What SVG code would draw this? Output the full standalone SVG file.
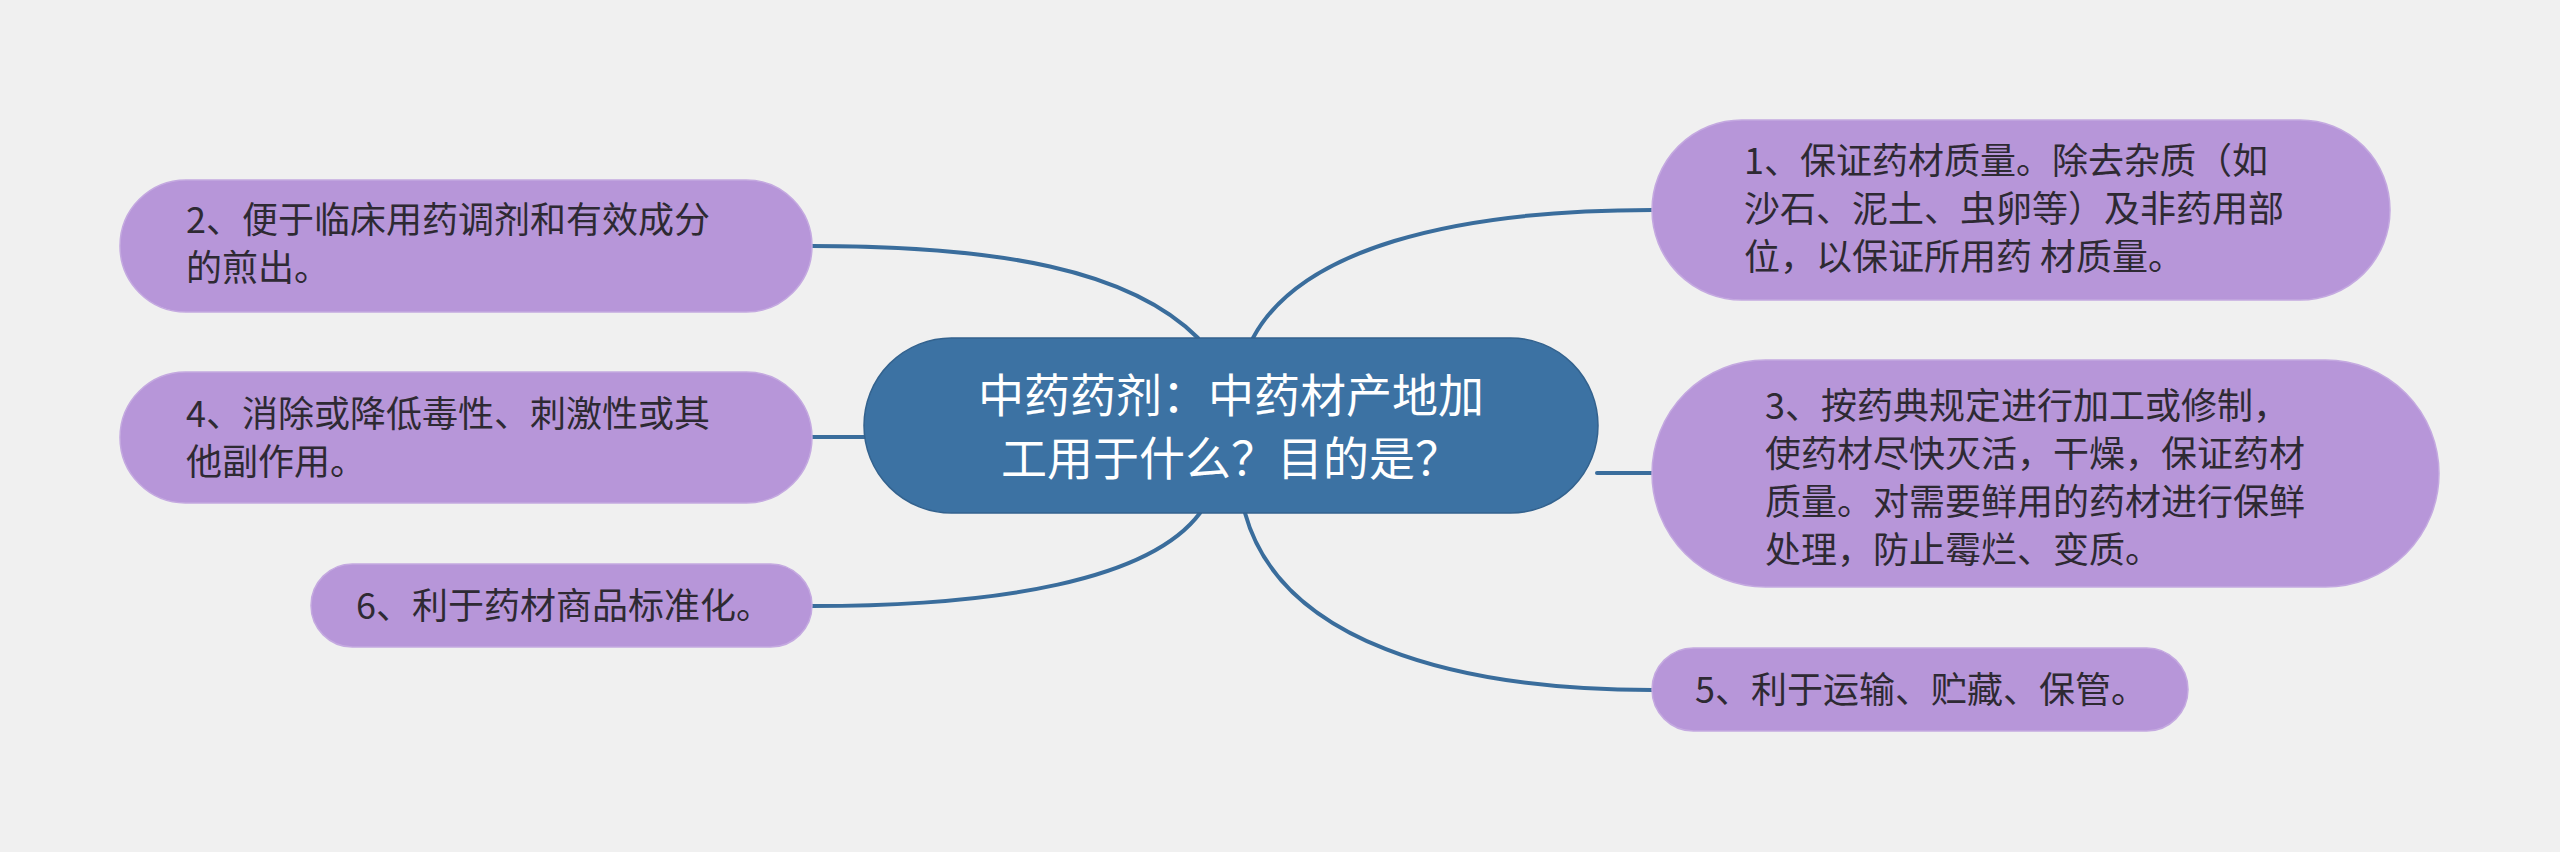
<svg xmlns="http://www.w3.org/2000/svg" width="2560" height="852" viewBox="0 0 2560 852">
<style>
.bg{fill:#f0f0f0}
.leaf{fill:#b796d9;stroke:#c4a9e0;stroke-width:1.5}
.root{fill:#3c72a3;stroke:#33628e;stroke-width:1.5}
.t{font-family:"Noto Sans CJK SC","Noto Sans",sans-serif;font-size:36px;fill:#2e2a33}
.rt{font-family:"Noto Sans CJK SC","Noto Sans",sans-serif;font-size:46px;fill:#ffffff;text-anchor:middle}
.c{fill:none;stroke:#3a6d9c;stroke-width:4;stroke-linecap:round}
</style>
<rect class="bg" x="0" y="0" width="2560" height="852"/>
<g id="connectors">
<path class="c" d="M 1198 338 C 1130 270, 1000 246, 812 246"/>
<path class="c" d="M 865 437 L 812 437"/>
<path class="c" d="M 1200 513 C 1150 580, 1000 606, 812 606"/>
<path class="c" d="M 1253 338 C 1300 250, 1450 210, 1652 210"/>
<path class="c" d="M 1597 473 L 1652 473"/>
<path class="c" d="M 1245 513 C 1280 640, 1450 690, 1652 690"/>
</g>
<g id="root">
<rect class="root" x="864" y="338" width="734" height="175" rx="87.5"/>
<text class="rt" x="1231" y="412">中药药剂：中药材产地加</text>
<text class="rt" x="1231" y="475">工用于什么？目的是？</text>
</g>
<g id="node2">
<rect class="leaf" x="120" y="180" width="692" height="132" rx="66"/>
<text class="t" x="186" y="233">2、便于临床用药调剂和有效成分</text>
<text class="t" x="186" y="281">的煎出。</text>
</g>
<g id="node4">
<rect class="leaf" x="120" y="372" width="692" height="131" rx="65.5"/>
<text class="t" x="186" y="427">4、消除或降低毒性、刺激性或其</text>
<text class="t" x="186" y="475">他副作用。</text>
</g>
<g id="node6">
<rect class="leaf" x="311" y="564" width="501" height="83" rx="41.5"/>
<text class="t" x="356" y="619">6、利于药材商品标准化。</text>
</g>
<g id="node1">
<rect class="leaf" x="1652" y="120" width="738" height="180" rx="90"/>
<text class="t" x="1744" y="174">1、保证药材质量。除去杂质（如</text>
<text class="t" x="1744" y="222">沙石、泥土、虫卵等）及非药用部</text>
<text class="t" x="1744" y="270">位，以保证所用药 材质量。</text>
</g>
<g id="node3">
<rect class="leaf" x="1652" y="360" width="787" height="227" rx="113.5"/>
<text class="t" x="1765" y="419">3、按药典规定进行加工或修制，</text>
<text class="t" x="1765" y="467">使药材尽快灭活，干燥，保证药材</text>
<text class="t" x="1765" y="515">质量。对需要鲜用的药材进行保鲜</text>
<text class="t" x="1765" y="563">处理，防止霉烂、变质。</text>
</g>
<g id="node5">
<rect class="leaf" x="1652" y="648" width="536" height="83" rx="41.5"/>
<text class="t" x="1695" y="703">5、利于运输、贮藏、保管。</text>
</g>
</svg>
